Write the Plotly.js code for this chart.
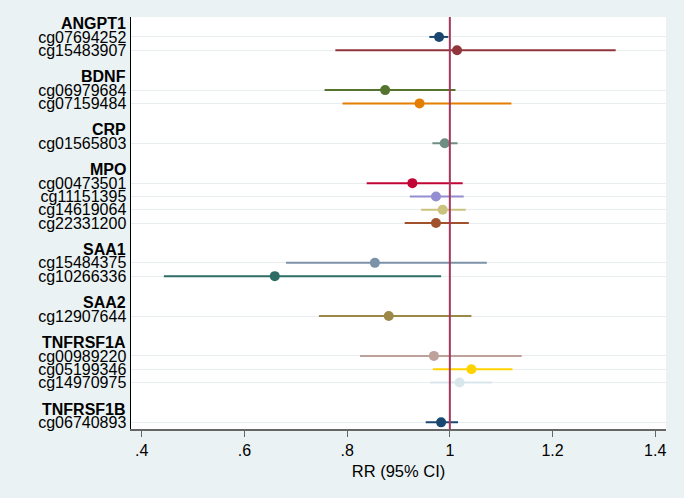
<!DOCTYPE html>
<html>
<head>
<meta charset="utf-8">
<script src="https://cdn.plot.ly/plotly-3.0.1.min.js"></script>
<style>html,body{margin:0;padding:0;background:#eaf2f3;}#chart{width:684px;height:498px;}</style>
</head>
<body>
<div id="chart"></div>
<script>
// Gene groups (header rows) and CpG sites with their row positions
const genes = ["ANGPT1", "BDNF", "CRP", "MPO", "SAA1", "SAA2", "TNFRSF1A", "TNFRSF1B"];
const geneRows = [0, 4, 8, 11, 17, 21, 24, 29];
const sites = ["cg07694252", "cg15483907", "cg06979684", "cg07159484", "cg01565803",
  "cg00473501", "cg11151395", "cg14619064", "cg22331200", "cg15484375", "cg10266336",
  "cg12907644", "cg00989220", "cg05199346", "cg14970975", "cg06740893"];
const siteRows = [1, 2, 5, 6, 9, 12, 13, 14, 15, 18, 19, 22, 25, 26, 27, 30];
const rr = [0.979, 1.014, 0.874, 0.941, 0.990, 0.927, 0.973, 0.986, 0.973, 0.854, 0.659,
  0.881, 0.969, 1.042, 1.019, 0.983];
const lower = [0.960, 0.777, 0.756, 0.791, 0.966, 0.838, 0.922, 0.944, 0.912, 0.681, 0.443,
  0.745, 0.825, 0.967, 0.962, 0.953];
const upper = [0.997, 1.323, 1.011, 1.120, 1.015, 1.025, 1.027, 1.031, 1.037, 1.072, 0.983,
  1.042, 1.140, 1.122, 1.082, 1.016];
const colors = ["#1a476f", "#90353b", "#55752f", "#e37e00", "#6e8e84", "#c10534", "#938dd2",
  "#cac27e", "#a0522d", "#7b92a8", "#2d6d66", "#9c8847", "#bfa19c", "#ffd200", "#d9e6eb",
  "#1a476f"];
const xTickVals = [0.4, 0.6, 0.8, 1, 1.2, 1.4];
const xTickText = [".4", ".6", ".8", "1", "1.2", "1.4"];

const font = "Liberation Sans, Arial, sans-serif";

const traces = sites.map((s, i) => ({
  type: "scatter",
  mode: "markers",
  x: [rr[i]],
  y: [siteRows[i]],
  name: s,
  marker: {color: colors[i], size: 10},
  error_x: {
    type: "data", symmetric: false,
    array: [upper[i] - rr[i]], arrayminus: [rr[i] - lower[i]],
    color: colors[i], thickness: 2, width: 0
  },
  showlegend: false,
  hoverinfo: "x+name"
}));

const annotations = genes.map((g, i) => ({
  xref: "paper", yref: "y", x: 0, y: geneRows[i],
  xanchor: "right", yanchor: "middle", xshift: -3,
  text: "<b>" + g + "</b>", showarrow: false,
  font: {family: font, size: 16, color: "#000"}
}));

const layout = {
  width: 684, height: 498,
  paper_bgcolor: "#eaf2f3", plot_bgcolor: "#ffffff",
  margin: {l: 131, r: 18, t: 17, b: 69},
  font: {family: font, size: 16, color: "#000"},
  xaxis: {
    range: [0.379, 1.421], autorange: false,
    tickvals: xTickVals, ticktext: xTickText,
    ticks: "outside", ticklen: 6, tickcolor: "#666", tickwidth: 1,
    showgrid: false, zeroline: false,
    showline: true, linecolor: "#666", linewidth: 2,
    tickfont: {family: font, size: 16, color: "#000"},
    title: {text: "RR (95% CI)", font: {family: font, size: 16.5, color: "#000"}, standoff: 7}
  },
  yaxis: {
    range: [30.5, -0.5], autorange: false,
    tickvals: siteRows, ticktext: sites,
    ticks: "", showgrid: true, gridcolor: "#e8eef0", gridwidth: 1,
    zeroline: false, showline: true, linecolor: "#000", linewidth: 1.5,
    tickfont: {family: font, size: 16, color: "#000"}
  },
  shapes: [{
    type: "line", xref: "x", yref: "paper", x0: 1, x1: 1, y0: 0, y1: 1,
    line: {color: "#a5365c", width: 2}, layer: "above"
  }],
  annotations: annotations
};

Plotly.newPlot("chart", traces, layout, {displayModeBar: false, staticPlot: true});
</script>
</body>
</html>
